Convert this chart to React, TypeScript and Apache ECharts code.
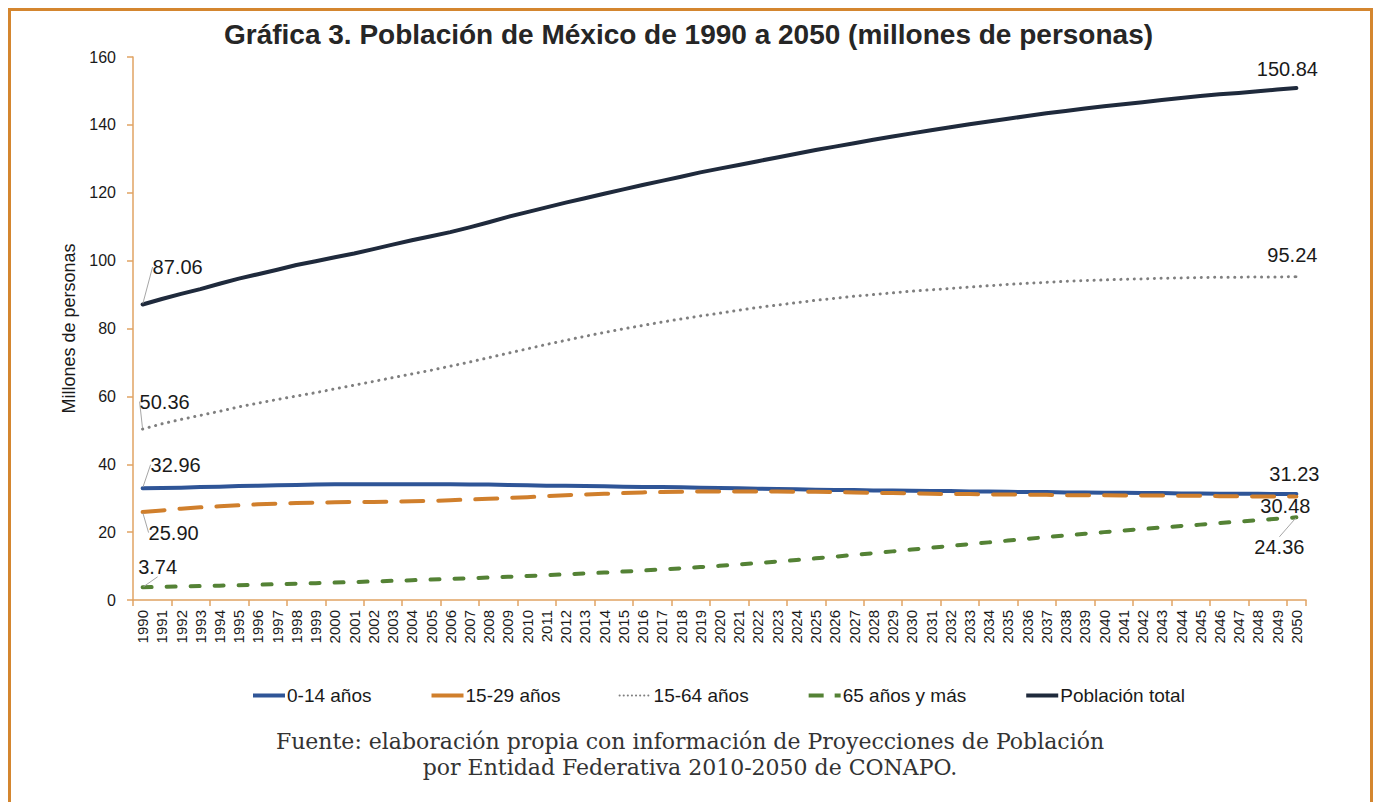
import React, { useEffect, useRef } from "react";
import * as echarts from "echarts";

const years: string[] = [];
for (let y = 1990; y <= 2050; y++) years.push(String(y));

const age0_14 = [
  32.96, 33.0, 33.1, 33.3, 33.4, 33.6, 33.7, 33.8, 33.9, 34.0,
  34.1, 34.1, 34.1, 34.1, 34.1, 34.1, 34.1, 34.0, 34.0, 33.9,
  33.8, 33.7, 33.7, 33.6, 33.5, 33.4, 33.3, 33.3, 33.2, 33.1,
  33.0, 32.9, 32.8, 32.7, 32.6, 32.5, 32.4, 32.4, 32.3, 32.3,
  32.2, 32.1, 32.1, 32.0, 32.0, 31.9, 31.8, 31.8, 31.7, 31.7,
  31.6, 31.6, 31.5, 31.5, 31.4, 31.4, 31.3, 31.3, 31.3, 31.25,
  31.23,
];
const age15_29 = [
  25.9, 26.4, 26.9, 27.3, 27.6, 27.9, 28.2, 28.4, 28.6, 28.7,
  28.8, 28.9, 28.9, 29.0, 29.1, 29.2, 29.4, 29.6, 29.8, 30.1,
  30.3, 30.6, 30.9, 31.1, 31.3, 31.5, 31.7, 31.8, 31.9, 32.0,
  32.0, 32.0, 32.0, 32.0, 31.9, 31.9, 31.8, 31.7, 31.6, 31.5,
  31.4, 31.3, 31.2, 31.2, 31.1, 31.1, 31.0, 31.0, 30.9, 30.9,
  30.9, 30.8, 30.8, 30.8, 30.7, 30.7, 30.6, 30.6, 30.5, 30.5,
  30.48,
];
const age15_64 = [
  50.36, 51.9, 53.2, 54.4, 55.6, 56.9, 58.0, 59.1, 60.1, 61.1,
  62.2, 63.3, 64.4, 65.5, 66.6, 67.7, 68.9, 70.1, 71.4, 72.7,
  74.0, 75.3, 76.5, 77.7, 78.8, 79.9, 80.9, 81.9, 82.8, 83.7,
  84.5, 85.4, 86.2, 86.9, 87.6, 88.3, 88.9, 89.5, 90.0, 90.5,
  91.0, 91.4, 91.8, 92.2, 92.6, 93.0, 93.3, 93.6, 93.9, 94.1,
  94.3, 94.5, 94.6, 94.8, 94.9, 95.0, 95.1, 95.1, 95.2, 95.2,
  95.24,
];
const age65plus = [
  3.74, 3.86, 3.98, 4.1, 4.23, 4.37, 4.51, 4.66, 4.81, 4.97,
  5.13, 5.3, 5.47, 5.65, 5.83, 6.02, 6.21, 6.41, 6.62, 6.84,
  7.07, 7.31, 7.56, 7.82, 8.09, 8.38, 8.68, 9.0, 9.34, 9.7,
  10.07, 10.47, 10.89, 11.33, 11.79, 12.27, 12.77, 13.28, 13.8, 14.33,
  14.86, 15.39, 15.92, 16.45, 16.98, 17.5, 18.02, 18.53, 19.03, 19.52,
  20.0, 20.47, 20.93, 21.37, 21.8, 22.21, 22.7, 23.1, 23.5, 23.95,
  24.36,
];
const total = [
  87.06, 88.7, 90.2, 91.6, 93.2, 94.7, 96.0, 97.3, 98.7, 99.8,
  101.0, 102.1, 103.4, 104.7, 106.0, 107.2, 108.4, 109.8, 111.3, 112.9,
  114.3, 115.7, 117.1, 118.4, 119.7, 121.0, 122.3, 123.5, 124.7, 126.0,
  127.1, 128.2, 129.3, 130.4, 131.5, 132.6, 133.6, 134.6, 135.6, 136.6,
  137.5, 138.4, 139.3, 140.2, 141.0, 141.8, 142.6, 143.4, 144.1, 144.8,
  145.5, 146.1, 146.7, 147.3, 147.9, 148.5, 149.0, 149.4, 149.9, 150.4,
  150.84,
];

const seriesNames = ["0-14 años", "15-29 años", "15-64 años", "65 años y más", "Población total"];
const titleText = "Gráfica 3. Población de México de 1990 a 2050 (millones de personas)";
const yAxisName = "Millones de personas";
const sourceLines = [
  "Fuente: elaboración propia con información de Proyecciones de Población",
  "por Entidad Federativa 2010-2050 de CONAPO.",
];

// label offsets [first, last] relative to default 'top' position
const labelOffsets: Record<string, [number, number][]> = {
  "0-14 años": [[33, -7.5], [-2, -4.5]],
  "15-29 años": [[31, 36.5], [-11, 25]],
  "15-64 años": [[22, -11.5], [-4, -5.5]],
  "65 años y más": [[15, -4.5], [-17, 45.5]],
  "Población total": [[35, -21.5], [-9, -3.5]],
};
const leaderShow: Record<string, [boolean, boolean]> = {
  "0-14 años": [true, false],
  "15-29 años": [true, false],
  "15-64 años": [true, false],
  "65 años y más": [true, true],
  "Población total": [true, false],
};

export default function App() {
  const ref = useRef<HTMLDivElement>(null);
  useEffect(() => {
    document.body.style.margin = "0";
    if (!ref.current) return;
    const chart = echarts.init(ref.current, undefined, { renderer: "svg" });

    const mkData = (name: string, vals: number[], color: string) =>
      vals.map((v, i) => {
        if (i === 0 || i === vals.length - 1) {
          const k = i === 0 ? 0 : 1;
          return {
            value: v,
            symbol: "circle",
            symbolSize: 2,
            itemStyle: { color },
            label: {
              show: true,
              position: "top",
              formatter: v.toFixed(2),
              fontFamily: "Liberation Sans, Arial, sans-serif",
              fontSize: 20,
              color: "#1a1a1a",
            },
            labelLine: {
              show: leaderShow[name][k],
              lineStyle: { color: "#a6a6a6", width: 1 },
            },
          };
        }
        return v;
      });

    const styles: Record<string, any> = {
      "0-14 años": { color: "#2f5597", width: 4, type: "solid" },
      "15-29 años": { color: "#d07f2c", width: 4, type: [22, 15] },
      "15-64 años": { color: "#7f7f7f", width: 3, type: [0.1, 6.6] },
      "65 años y más": { color: "#548235", width: 4, type: [9, 15] },
      "Población total": { color: "#1f2a3c", width: 4, type: "solid" },
    };
    const legendStyles: Record<string, any> = {
      "0-14 años": { width: 4, type: "solid", cap: "butt" },
      "15-29 años": { width: 4, type: [60, 30], cap: "butt" },
      "15-64 años": { width: 2, type: [0.1, 4], cap: "round" },
      "65 años y más": { width: 4, type: [15, 11], cap: "butt" },
      "Población total": { width: 4, type: "solid", cap: "butt" },
    };
    const dataMap: Record<string, number[]> = {
      "0-14 años": age0_14,
      "15-29 años": age15_29,
      "15-64 años": age15_64,
      "65 años y más": age65plus,
      "Población total": total,
    };

    const series = seriesNames.map((name) => {
      const st = styles[name];
      return {
        name,
        type: "line",
        data: mkData(name, dataMap[name], st.color),
        symbol: "none",
        showSymbol: true,
        smooth: false,
        color: st.color,
        lineStyle: { color: st.color, width: st.width, type: st.type, cap: "round", join: "round" },
        labelLayout: (p: any) => {
          const k = p.dataIndex === 0 ? 0 : 1;
          const o = labelOffsets[name][k];
          return { dx: o[0], dy: o[1] };
        },
        emphasis: { disabled: true },
        z: name === "Población total" ? 5 : 3,
      };
    });

    chart.setOption({
      animation: false,
      backgroundColor: "#ffffff",
      title: {
        text: titleText,
        left: "center",
        top: 15,
        textStyle: {
          fontFamily: "Liberation Sans, Arial, sans-serif",
          fontSize: 28,
          fontWeight: "bold",
          color: "#262626",
        },
      },
      grid: { left: 133, right: 71, top: 57, bottom: 202, containLabel: false },
      legend: {
        data: seriesNames.map((n) => ({
          name: n,
          lineStyle: { width: legendStyles[n].width, type: legendStyles[n].type, cap: legendStyles[n].cap },
        })),
        left: 246,
        top: 681,
        itemWidth: 32,
        itemHeight: 14,
        itemGap: 58,
        itemStyle: { opacity: 0 },
        textStyle: {
          fontFamily: "Liberation Sans, Arial, sans-serif",
          fontSize: 19,
          color: "#1a1a1a",
          padding: [0, 0, 0, -3],
        },
      },
      xAxis: {
        type: "category",
        data: years,
        boundaryGap: true,
        axisLine: { lineStyle: { color: "#e0a363", width: 1.5 } },
        axisTick: { show: true, interval: 1, length: 6, lineStyle: { color: "#e0a363", width: 1.5 } },
        axisLabel: {
          interval: 0,
          rotate: 90,
          margin: 10,
          fontFamily: "Liberation Sans, Arial, sans-serif",
          fontSize: 15,
          color: "#1a1a1a",
        },
        splitLine: { show: false },
      },
      yAxis: {
        type: "value",
        min: 0,
        max: 160,
        interval: 20,
        name: yAxisName,
        nameLocation: "middle",
        nameGap: 52,
        nameTextStyle: {
          fontFamily: "Liberation Sans, Arial, sans-serif",
          fontSize: 18,
          color: "#1a1a1a",
        },
        axisLine: { show: true, lineStyle: { color: "#e0a363", width: 1.5 } },
        axisTick: { show: true, length: 6, lineStyle: { color: "#e0a363", width: 1.5 } },
        axisLabel: {
          margin: 17,
          fontFamily: "Liberation Sans, Arial, sans-serif",
          fontSize: 16,
          color: "#1a1a1a",
        },
        splitLine: { show: false },
      },
      graphic: [
        {
          type: "rect",
          shape: { x: 9.5, y: 9.5, width: 1362, height: 900 },
          style: { fill: "none", stroke: "#d4862f", lineWidth: 3 },
          silent: true,
        },
        ...sourceLines.map((t, i) => ({
          type: "text",
          x: 690,
          y: 741 + i * 26,
          style: {
            text: t,
            fill: "#333333",
            font: "22px 'DejaVu Serif', serif",
            textAlign: "center",
            textVerticalAlign: "middle",
          },
          silent: true,
        })),
      ],
      series,
    });
    return () => chart.dispose();
  }, []);
  return <div ref={ref} style={{ width: 1377, height: 802 }} />;
}
